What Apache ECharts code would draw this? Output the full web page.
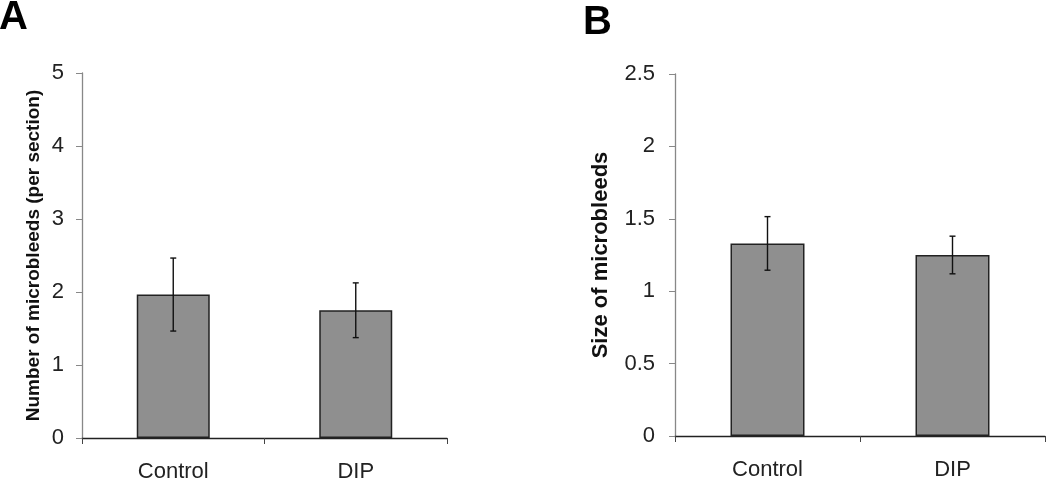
<!DOCTYPE html>
<html>
<head>
<meta charset="utf-8">
<script src="https://cdn.jsdelivr.net/npm/echarts@6/dist/echarts.min.js"></script>
<style>html,body{margin:0;padding:0;background:#fff;}#c{width:1050px;height:483px;}</style>
</head>
<body>
<div id="c"></div>
<script>
const categories = ['Control', 'DIP'];
const countMean = [1.965, 1.75];
const countErr = [0.5, 0.375];
const sizeMean = [1.33, 1.25];
const sizeErr = [0.185, 0.13];
const countTicks = { min: 0, max: 5, interval: 1 };
const sizeTicks = { min: 0, max: 2.5, interval: 0.5 };

const FONT = '"Liberation Sans", Arial, sans-serif';
const chart = echarts.init(document.getElementById('c'), null, { renderer: 'canvas' });

function errData(mean, err) {
  return mean.map((m, i) => [i, m - err[i], m + err[i]]);
}
function errRender(params, api) {
  const x = api.value(0);
  const lo = api.coord([x, api.value(1)]);
  const hi = api.coord([x, api.value(2)]);
  const hw = 3;
  const st = { stroke: '#111', lineWidth: 1.4 };
  return {
    type: 'group',
    children: [
      { type: 'line', shape: { x1: hi[0], y1: hi[1], x2: lo[0], y2: lo[1] }, style: st },
      { type: 'line', shape: { x1: hi[0] - hw, y1: hi[1], x2: hi[0] + hw, y2: hi[1] }, style: st },
      { type: 'line', shape: { x1: lo[0] - hw, y1: lo[1], x2: lo[0] + hw, y2: lo[1] }, style: st }
    ]
  };
}
function xAxis(gi) {
  return {
    type: 'category', gridIndex: gi, data: categories,
    axisLine: { lineStyle: { color: '#222', width: 1.3 } },
    axisTick: { show: true, length: 6, lineStyle: { color: '#444' } },
    axisLabel: { fontFamily: FONT, fontSize: 22, color: '#222', margin: 23 }
  };
}
function yAxis(gi, t, name, nameSize, gap, lblMargin) {
  return {
    type: 'value', gridIndex: gi, min: t.min, max: t.max, interval: t.interval,
    name: name, nameLocation: 'middle', nameGap: gap,
    nameTextStyle: { fontFamily: FONT, fontSize: nameSize, fontWeight: 'bold', color: '#111' },
    axisLine: { show: true, lineStyle: { color: '#888', width: 1.3 } },
    axisTick: { show: true, length: 6, lineStyle: { color: '#888' } },
    splitLine: { show: false },
    axisLabel: { fontFamily: FONT, fontSize: 22, color: '#222', margin: lblMargin }
  };
}
const barStyle = { color: '#8f8f8f', borderColor: '#222', borderWidth: 1.5 };

chart.setOption({
  animation: false,
  backgroundColor: '#fff',
  graphic: [
    { type: 'text', left: -1, top: -2, style: { text: 'A', font: 'bold 40px ' + FONT, fill: '#000' } },
    { type: 'text', left: 583, top: 3, style: { text: 'B', font: 'bold 40px ' + FONT, fill: '#000' } }
  ],
  grid: [
    { left: 82, top: 73, width: 365, height: 366 },
    { left: 675, top: 74, width: 370, height: 362 }
  ],
  xAxis: [xAxis(0), xAxis(1)],
  yAxis: [
    yAxis(0, countTicks, 'Number of microbleeds (per section)', 19, 39, 18),
    yAxis(1, sizeTicks, 'Size of microbleeds', 22, 63, 20)
  ],
  series: [
    { type: 'bar', xAxisIndex: 0, yAxisIndex: 0, data: countMean, barWidth: '40%', itemStyle: barStyle },
    { type: 'custom', xAxisIndex: 0, yAxisIndex: 0, data: errData(countMean, countErr), renderItem: errRender, z: 5 },
    { type: 'bar', xAxisIndex: 1, yAxisIndex: 1, data: sizeMean, barWidth: '40%', itemStyle: barStyle },
    { type: 'custom', xAxisIndex: 1, yAxisIndex: 1, data: errData(sizeMean, sizeErr), renderItem: errRender, z: 5 }
  ]
});
</script>
</body>
</html>
